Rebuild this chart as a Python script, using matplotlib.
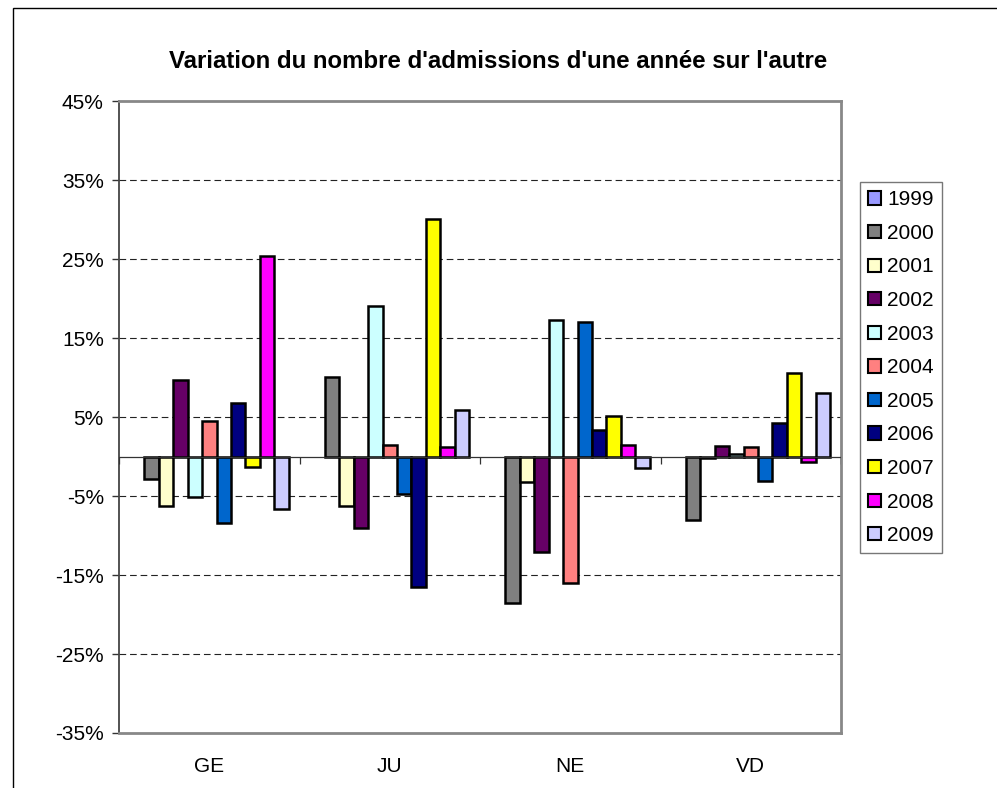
import numpy as np
import matplotlib
matplotlib.use("Agg")
import matplotlib.pyplot as plt
from matplotlib.patches import Rectangle

plt.rcParams['font.family'] = ['Liberation Sans', 'DejaVu Sans']

# ── data (variation in %) ────────────────────────────────────────────────
cantons = ["GE", "JU", "NE", "VD"]
years = ["1999", "2000", "2001", "2002", "2003", "2004",
         "2005", "2006", "2007", "2008", "2009"]

v1999 = [np.nan, np.nan, np.nan, np.nan]
v2000 = [-2.9, 10.1, -18.5, -8.0]
v2001 = [-6.3, -6.3, -3.2, -0.2]
v2002 = [9.7, -9.1, -12.1, 1.3]
v2003 = [-5.1, 19.0, 17.3, 0.3]
v2004 = [4.5, 1.4, -16.0, 1.2]
v2005 = [-8.4, -4.7, 17.0, -3.1]
v2006 = [6.8, -16.5, 3.3, 4.3]
v2007 = [-1.3, 30.1, 5.1, 10.6]
v2008 = [25.4, 1.2, 1.4, -0.7]
v2009 = [-6.6, 5.9, -1.4, 8.1]

series = [v1999, v2000, v2001, v2002, v2003, v2004,
          v2005, v2006, v2007, v2008, v2009]

colors = ["#9999FF", "#808080", "#FFFFCC", "#660066", "#CCFFFF", "#FF8080",
          "#0066CC", "#000080", "#FFFF00", "#FF00FF", "#CCCCFF"]

# ── figure ───────────────────────────────────────────────────────────────
fig = plt.figure(figsize=(9.97, 7.88), dpi=100, facecolor="white")
ax = fig.add_axes([0.1194, 0.0698, 0.7242, 0.802])

# outer chart border
fig.patches.append(Rectangle((13 / 997, -0.05), 1.2, 1.05 - 8 / 788,
                             transform=fig.transFigure, fill=False,
                             edgecolor="black", lw=1.0, zorder=0))

x = np.arange(len(cantons))
n = len(series)
bw = 0.08
for i, (vals, col, yr) in enumerate(zip(series, colors, years)):
    off = (i - (n - 1) / 2) * bw
    ax.bar(x + off, vals, width=bw, color=col, edgecolor="black",
           linewidth=1.8, label=yr, zorder=3)

# grid + zero line
ax.set_ylim(-35, 45)
ax.set_xlim(-0.5, len(cantons) - 0.5)
yt = np.arange(-35, 46, 10)
ax.set_yticks(yt)
ax.set_yticklabels([f"{v}%" for v in yt])
for v in yt[1:-1]:
    ax.axhline(v, color="#222222", lw=0.8, ls=(0, (6, 3.5)), zorder=1)
ax.axhline(0, color="#333333", lw=0.9, zorder=4)
ax.vlines(np.arange(len(cantons) + 1) - 0.5, -0.9, 0, color="#333333",
          lw=0.9, zorder=4)

ax.set_xticks(x)
ax.set_xticklabels(cantons)
ax.tick_params(axis="x", length=0, pad=17, labelsize=15)
ax.tick_params(axis="y", length=5, width=1.0, pad=6, labelsize=15,
               color="#333333")

for s in ["top", "right", "bottom"]:
    ax.spines[s].set_color("#888888")
    ax.spines[s].set_linewidth(2.0)
ax.spines["left"].set_color("#444444")
ax.spines["left"].set_linewidth(1.3)

fig.text(0.5, 0.922, "Variation du nombre d'admissions d'une année sur l'autre",
         ha="center", va="center", fontsize=17.3, fontweight="bold")

leg = ax.legend(loc="upper left", bbox_to_anchor=(860 / 997, 1 - 182 / 788),
                bbox_transform=fig.transFigure, fontsize=15,
                frameon=True, fancybox=False, borderaxespad=0,
                handlelength=0.6, handleheight=0.6, handletextpad=0.3,
                labelspacing=0.70, borderpad=0.4)
leg.get_frame().set_edgecolor("#555555")
leg.get_frame().set_linewidth(1.0)
for h in leg.legend_handles:
    h.set_linewidth(1.5)

fig.savefig("out.png", dpi=100, facecolor="white")
